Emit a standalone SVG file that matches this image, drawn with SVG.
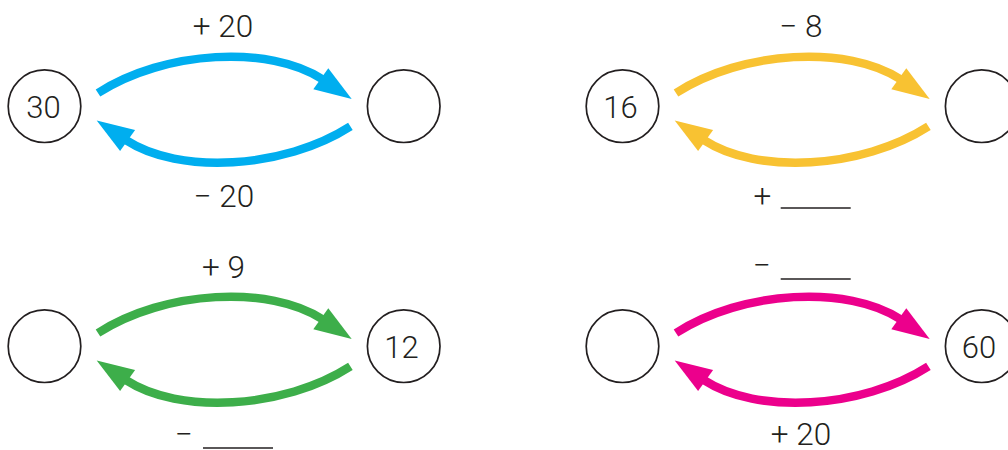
<svg xmlns="http://www.w3.org/2000/svg" width="1008" height="450" viewBox="0 0 1008 450">
<style>
  .node circle { fill: #fff; stroke: #231F20; stroke-width: 1.7; }
  text { font-family: Roboto, "Liberation Sans", sans-serif; font-weight: 300; fill: #231F20; }
  .num { font-size: 31px; text-anchor: middle; }
  .lbl { font-size: 31.5px; text-anchor: middle; }
  .blank { stroke: #231F20; stroke-width: 1.3; }
  .blue { color: #00AEEF; }
  .yellow { color: #F8C232; }
  .green { color: #3DAE4A; }
  .pink { color: #EC008C; }
</style>
<defs>
  <g id="arc">
    <path d="M98,93 C165,50 270,45 322,79" fill="none" stroke="currentColor" stroke-width="8.5"/>
    <polygon points="328.3,68.3 351.7,99 313.3,89.3" fill="currentColor"/>
  </g>
</defs>

<g id="connectors">
  <g class="blue">
    <use href="#arc"/>
    <use href="#arc" transform="rotate(180 224.2 109.7)"/>
  </g>
  <g class="yellow" transform="translate(578,0)">
    <use href="#arc"/>
    <use href="#arc" transform="rotate(180 224.2 109.7)"/>
  </g>
  <g class="green" transform="translate(0,240)">
    <use href="#arc"/>
    <use href="#arc" transform="rotate(180 224.2 109.7)"/>
  </g>
  <g class="pink" transform="translate(578,240)">
    <use href="#arc"/>
    <use href="#arc" transform="rotate(180 224.2 109.7)"/>
  </g>
</g>

<g id="node-30" class="node"><circle cx="44.5" cy="106.2" r="36.3"/><text class="num" x="43.5" y="118.3">30</text></g>
<g id="node-tl-empty" class="node"><circle cx="403.7" cy="106.2" r="36.3"/></g>
<g id="node-16" class="node"><circle cx="622.5" cy="106.2" r="36.3"/><text class="num" x="620.5" y="118.3">16</text></g>
<g id="node-tr-empty" class="node"><circle cx="981.7" cy="106.2" r="36.3"/></g>
<g id="node-bl-empty" class="node"><circle cx="44.5" cy="346.2" r="36.3"/></g>
<g id="node-12" class="node"><circle cx="403.7" cy="346.2" r="36.3"/><text class="num" x="401.5" y="358.3">12</text></g>
<g id="node-br-empty" class="node"><circle cx="622.5" cy="346.2" r="36.3"/></g>
<g id="node-60" class="node"><circle cx="981.7" cy="346.2" r="36.3"/><text class="num" x="979" y="358.3">60</text></g>

<g id="labels">
  <text class="lbl" x="223" y="36.5">+ 20</text>
  <text class="lbl" x="224" y="207">− 20</text>
  <text class="lbl" x="801" y="36.5">− 8</text>
  <text class="lbl" x="762.5" y="207">+</text>
  <line class="blank" x1="780.7" y1="208" x2="850.7" y2="208"/>
  <text class="lbl" x="223.5" y="278">+ 9</text>
  <text class="lbl" x="184" y="444.5">−</text>
  <line class="blank" x1="203" y1="448" x2="273" y2="448"/>
  <text class="lbl" x="762" y="275.5">−</text>
  <line class="blank" x1="780.7" y1="279" x2="850.7" y2="279"/>
  <text class="lbl" x="801" y="444.5">+ 20</text>
</g>
</svg>
